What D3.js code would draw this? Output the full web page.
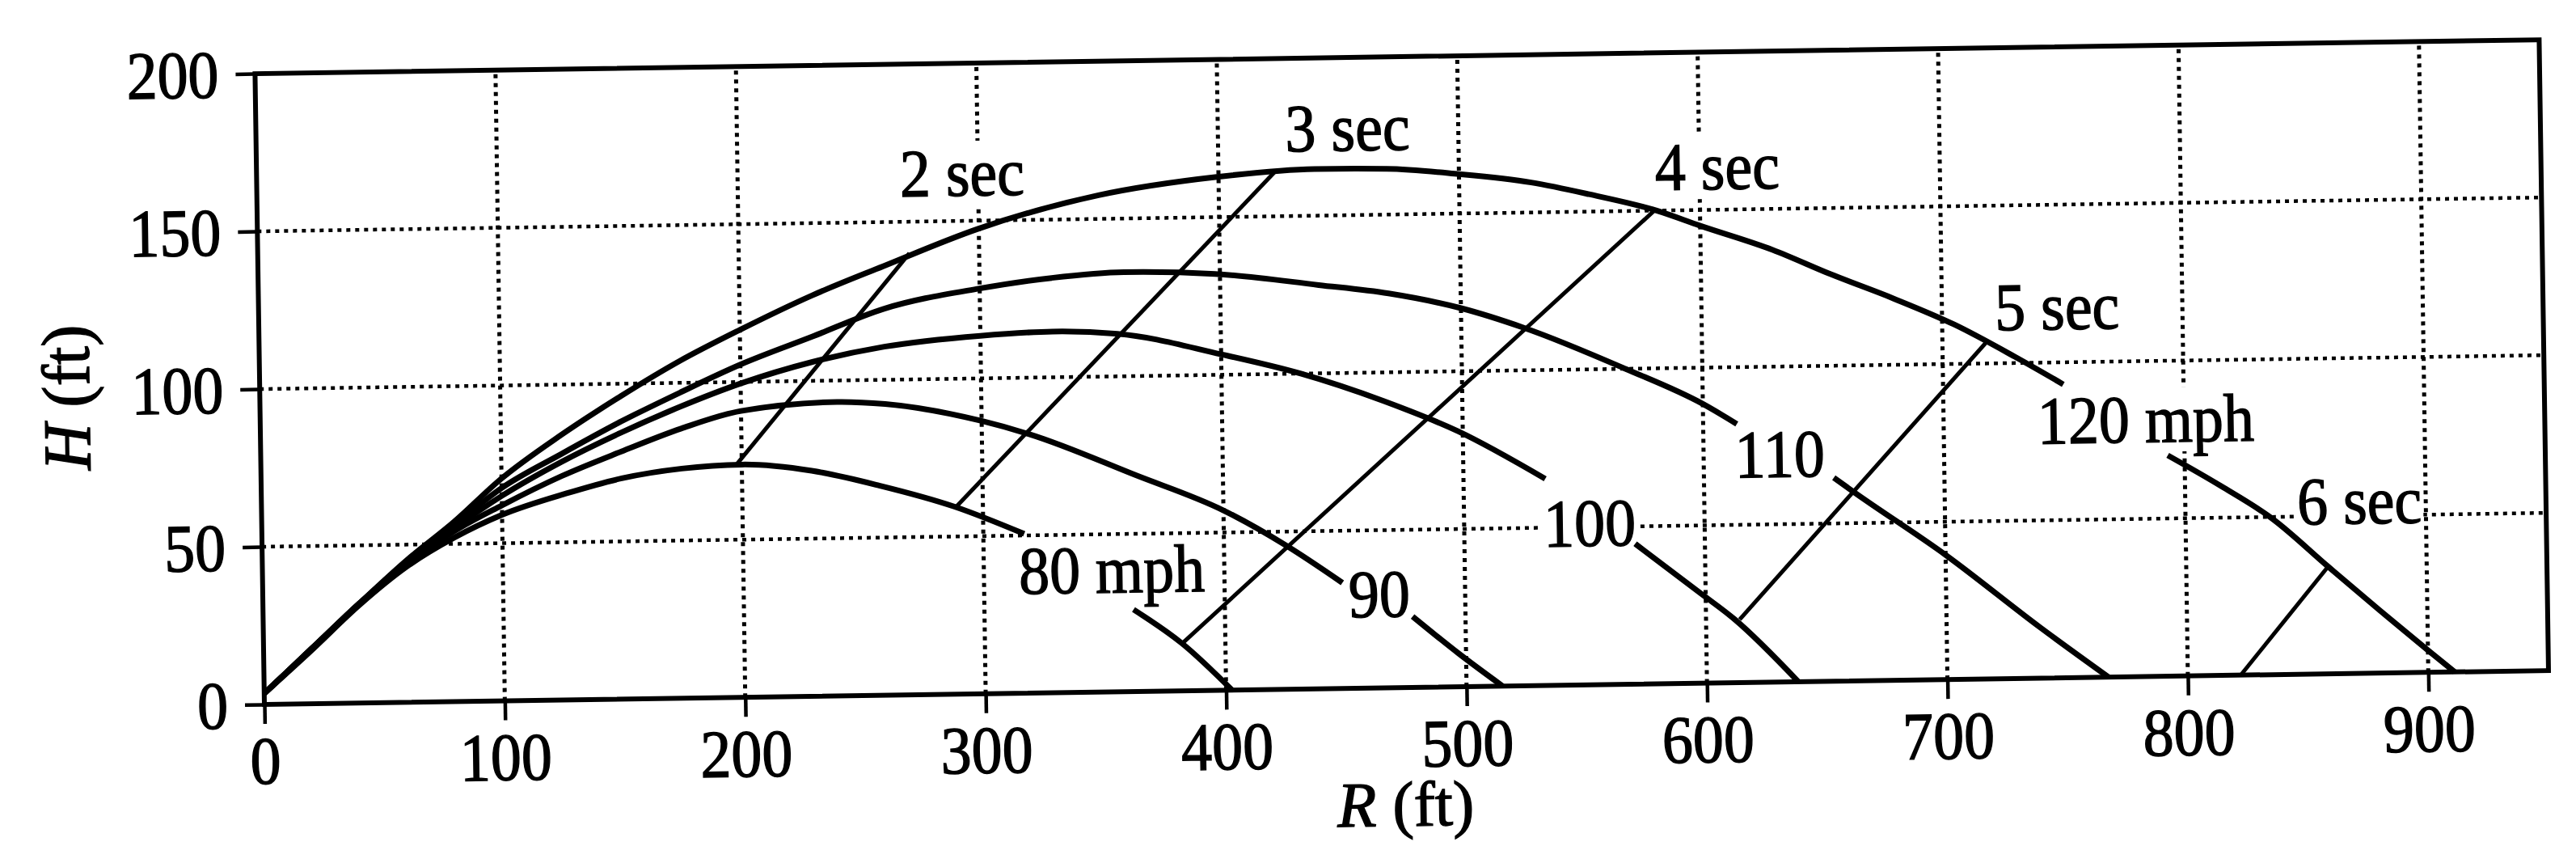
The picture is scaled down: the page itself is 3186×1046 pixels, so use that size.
<!DOCTYPE html>
<html><head><meta charset="utf-8">
<script src="https://cdn.jsdelivr.net/npm/d3@7"></script>
<style>html,body{margin:0;padding:0;background:#fff;} svg{display:block;background:#fff;}</style>
</head><body>
<svg id="chart" width="3186" height="1046"></svg>
<script>
// ---------- data (feet) ----------
const xTicks = [0, 100, 200, 300, 400, 500, 600, 700, 800, 900];
const yTicks = [0, 50, 100, 150, 200];
const xMax = 950, yMax = 200;

const speedLabels = ["80 mph", "90", "100", "110", "120 mph"];
const speedLabelAt = [[314.5, 31.5], [451.5, 22.5], [533, 44], [613, 65], [739, 74.3]];

// trajectories (R, H); null = break in the curve where the label sits
const traj80 = [[0,3.5],[20,17],[40,31],[60,43],[80,52],[100,59],[127,65.5],[150,70],[175,72.8],[200,73.8],[229,71.5],[257,66.5],[288,59.5],[317,50.5], null, [362,26],[382,15],[402.5,0]];
const traj90 = [[0,3.5],[20,17.3],[40,31.3],[60,43.5],[80,54],[100,62],[125,71],[150,78.5],[175,85.5],[200,90.8],[240,93.2],[260,92.3],[300,86.5],[320,82],[364,68.5],[400,57],[426,45.5],[449,33.5], null, [478,22.5],[497,10.5],[515,0]];
const traj100 = [[0,3.5],[20,17.5],[40,31.5],[60,44],[80,55],[100,65],[125,75.5],[150,84.5],[175,92.5],[200,99.5],[230,106],[260,110.5],[300,113.5],[330,114.5],[357,113.5],[400,106.5],[433,100],[467,91],[498,81],[534,65.5], null, [571,44.5],[597,29],[612,20],[638,0]];
const traj110 = [[0,3.5],[20,17.5],[40,31.5],[60,44.5],[80,56],[100,67.5],[125,78],[150,88],[175,97],[200,105.5],[230,114],[260,122.5],[300,128.5],[330,131.5],[360,133],[398,132],[441,128],[470,125],[500,120],[526,113.5],[568,100],[600,88.5],[614,82], null, [654,64.5],[662,60],[700,39.5],[739,16],[767,0]];
const traj120 = [[0,3.5],[20,17.5],[40,31.5],[60,45],[80,57],[100,70.5],[125,84],[150,96],[175,107],[200,116.5],[230,127],[260,136],[300,147.5],[350,157.5],[400,162.8],[440,164.8],[470,164.5],[500,162.5],[530,159.5],[554,155.5],[582,150],[600,145],[630,137],[654,129],[680,121],[705,112.5],[730,102],[750,93], null, [793,70],[815,60],[836,49.5],[859,34],[880,20],[900,7],[911,0]];
const trajectories = [traj80, traj90, traj100, traj110, traj120];

// time-of-flight lines
const timeLabels = ["2 sec", "3 sec", "4 sec", "5 sec", "6 sec"];
const timeLabelAt = [[267.5, 158], [428, 170.5], [581.5, 156.5], [722, 110.5], [846.5, 47.5]];
const timeLines = [
  [[198, 74], [271, 140]],
  [[289, 59.5], [424, 164.5]],
  [[382, 15], [581, 150]],
  [[614, 20], [718, 106.5]],
  [[822, 0], [859, 34]]
];

// ---------- drawing ----------
const FONT = "'Liberation Serif', 'Times New Roman', serif";
const FS = 76;
const TEXT_SCALE = "scale(1,1.1)";
const svg = d3.select("#chart");
const g = svg.append("g").attr("transform", "rotate(-0.85,327,871)");

const x = d3.scaleLinear().domain([0, xMax]).range([327, 327 + xMax * 2.974]);
const y = d3.scaleLinear().domain([0, yMax]).range([871, 91]);

function styleText(sel) {
  sel.style("font-family", FONT).style("font-size", FS + "px")
    .attr("fill", "#000").attr("stroke", "#000").attr("stroke-width", 1.3);
}

// grid
const grid = g.append("g");
grid.selectAll("line.v").data(xTicks.filter(d => d > 0)).join("line")
  .attr("class", "v")
  .attr("x1", d => x(d)).attr("x2", d => x(d))
  .attr("y1", y(0)).attr("y2", y(yMax))
  .attr("stroke", "#000").attr("stroke-width", 5).attr("stroke-dasharray", "5 6");
grid.selectAll("line.h").data(yTicks.filter(d => d > 0 && d < yMax)).join("line")
  .attr("class", "h")
  .attr("x1", x(0)).attr("x2", x(xMax))
  .attr("y1", d => y(d)).attr("y2", d => y(d))
  .attr("stroke", "#000").attr("stroke-width", 4.5).attr("stroke-dasharray", "5 6");

// label knock-out boxes
const boxLayer = g.append("g");

// frame
g.append("rect")
  .attr("x", x(0)).attr("y", y(yMax))
  .attr("width", x(xMax) - x(0)).attr("height", y(0) - y(yMax))
  .attr("fill", "none").attr("stroke", "#000").attr("stroke-width", 6);

// axes
const xAxis = g.append("g").attr("transform", `translate(0,${y(0)})`)
  .call(d3.axisBottom(x).tickValues(xTicks).tickSize(24).tickFormat(d3.format("d")));
const yAxis = g.append("g").attr("transform", `translate(${x(0)},0)`)
  .call(d3.axisLeft(y).tickValues(yTicks).tickSize(24).tickFormat(d3.format("d")));
[xAxis, yAxis].forEach(a => {
  a.select(".domain").remove();
  a.selectAll(".tick line").attr("stroke", "#000").attr("stroke-width", 4.5);
  a.selectAll(".tick text").call(styleText);
});
xAxis.selectAll(".tick text").attr("y", null).attr("dy", null)
  .attr("transform", `translate(0,98) ${TEXT_SCALE}`);
yAxis.selectAll(".tick text").attr("x", null).attr("dy", "0.34em")
  .attr("transform", `translate(-45,0) ${TEXT_SCALE}`);

// axis titles
const hTitle = g.append("text")
  .attr("transform", "translate(116,488) rotate(-90) scale(1.05,1.1)")
  .attr("text-anchor", "middle").call(styleText);
hTitle.append("tspan").style("font-style", "italic").text("H");
hTitle.append("tspan").text(" (ft)");

const rTitle = g.append("text")
  .attr("transform", `translate(${x(474)},${y(0) + 171}) scale(1.04,1.04)`)
  .attr("text-anchor", "middle").call(styleText);
rTitle.append("tspan").style("font-style", "italic").text("R");
rTitle.append("tspan").text(" (ft)");

// curves
const line = d3.line().defined(d => d !== null)
  .x(d => x(d[0])).y(d => y(d[1]))
  .curve(d3.curveMonotoneX);
g.append("g").selectAll("path").data(trajectories).join("path")
  .attr("d", d => line(d))
  .attr("fill", "none").attr("stroke", "#000").attr("stroke-width", 7)
  .attr("stroke-linejoin", "round");

// time lines
const tline = d3.line().x(d => x(d[0])).y(d => y(d[1]));
g.append("g").selectAll("path").data(timeLines).join("path")
  .attr("d", d => tline(d))
  .attr("fill", "none").attr("stroke", "#000").attr("stroke-width", 5);

// labels
const labelData = speedLabels.map((t, i) => ({ t, p: speedLabelAt[i] }))
  .concat(timeLabels.map((t, i) => ({ t, p: timeLabelAt[i] })));
const labels = g.append("g").selectAll("text").data(labelData).join("text")
  .attr("transform", d => `translate(${x(d.p[0])},${y(d.p[1])}) ${TEXT_SCALE}`)
  .call(styleText)
  .text(d => d.t);
labels.each(function (d) {
  const b = this.getBBox();
  const tx = x(d.p[0]), ty = y(d.p[1]);
  const top = (b.y + 6) * 1.1;
  const bottom = 12;
  boxLayer.append("rect")
    .attr("x", tx + b.x - 2).attr("y", ty + top)
    .attr("width", b.width + 4).attr("height", bottom - top)
    .attr("fill", "#fff");
});
</script>
</body></html>
